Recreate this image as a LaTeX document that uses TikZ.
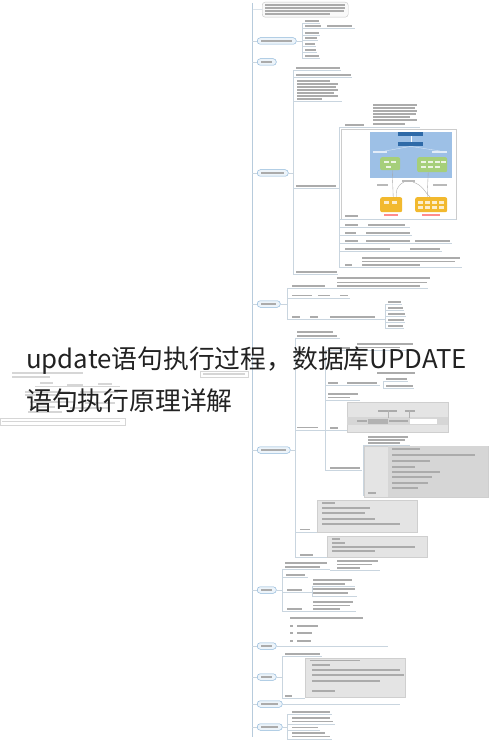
\documentclass[tikz,border=0pt]{standalone}
\usepackage{fontspec}
\newfontfamily\cjk{Noto Sans CJK SC}
\definecolor{trunkc}{HTML}{B7CBDC}
\definecolor{brc}{HTML}{C9D5DF}
\definecolor{pillb}{HTML}{8DB6D9}
\definecolor{pillf}{HTML}{EDF4FA}
\definecolor{txtc}{HTML}{ABABAB}
\definecolor{faintc}{HTML}{D6D6D6}
\definecolor{gboxc}{HTML}{E4E4E4}
\definecolor{gboxd}{HTML}{D6D6D6}
\definecolor{gboxb}{HTML}{CFCFCF}
\definecolor{picblue}{HTML}{9DC0E6}
\definecolor{picdark}{HTML}{2E6AA8}
\definecolor{picgreen}{HTML}{A6CF7A}
\definecolor{picyellow}{HTML}{F2B92E}
\definecolor{titlec}{HTML}{222222}
\tikzset{
 trunk/.style={draw=trunkc, line width=0.7pt},
 br/.style={draw=brc, line width=0.45pt},
 pill/.style={draw=pillb, fill=pillf, rounded corners=3pt, line width=0.5pt, inner sep=0pt, minimum height=6.5pt, anchor=west},
 txt/.style={fill=txtc},
 faint/.style={fill=faintc},
 gbox/.style={fill=gboxc, draw=gboxb, line width=0.3pt},
 titletext/.style={font=\cjk\fontsize{25.8}{42}\selectfont, text=titlec, inner sep=0pt, anchor=base west},
}
% text bar, underline, vertical bracket
\newcommand\T[3]{\fill[txt] (#1,#3-0.65) rectangle (#2,#3+0.65);}
\newcommand\F[3]{\fill[faint] (#1,#3-0.65) rectangle (#2,#3+0.65);}
\newcommand\U[3]{\draw[br] (#1,#3) -- (#2,#3);}
\newcommand\V[3]{\draw[br] (#1,#2) -- (#1,#3);}
\newcommand\Item[3]{\T{#1+2.5}{#2-1}{#3}\U{#1}{#2}{#3+2.5}}
\newcommand\Pill[4]{\node[pill, minimum width={(#3-#2)*1pt}] (#1) at (#2,#4) {};\T{#2+4}{#3-4}{#4}}
\begin{document}
\begin{tikzpicture}[x=1pt,y=-1pt]
\useasboundingbox (0,0) rectangle (490,743);
\fill[white] (0,0) rectangle (490,743);

% ---------- faint background map on the left ----------
\F{12}{83}{373}\F{12}{50}{377}
\F{40}{53}{383}\F{67}{83}{385}\F{98}{112}{384}
\draw[draw=faintc,line width=0.3pt] (35,386)--(120,386);
\F{25}{70}{392}\F{80}{118}{392}\F{25}{60}{395}
\F{30}{75}{402}\F{85}{115}{403}\F{30}{55}{407}\F{70}{110}{408}\F{28}{62}{412}
\draw[draw=faintc,line width=0.3pt] (0,418) rectangle (125,425);
\F{2}{120}{421.5}
\draw[draw=faintc,line width=0.3pt] (200,371) rectangle (248,377);
\F{203}{245}{374}

% ---------- trunk ----------
\coordinate (t0) at (252,3);
\coordinate (t1) at (252,737);
\draw[trunk] (t0) -- (t1);

% ---------- top box ----------
\node[draw=gray!45, fill=gray!5, rounded corners=3pt, minimum width=86pt, minimum height=15pt, anchor=north west, inner sep=0pt] (top) at (262,2) {};
\T{265}{345}{5}\T{265}{345}{8}\T{265}{344}{11}\T{265}{330}{14}
\coordinate (ttop) at (252,9.5);
\draw[br] (ttop) -- (top.west);

% ---------- node A ----------
\Pill{A}{257}{296}{41}
\coordinate (tA) at (252,41);
\draw[br] (tA) -- (A.west);
\coordinate (bA) at (302,41);
\draw[br] (A.east) -- (bA);
\V{302}{23.5}{58.5}
\Item{302}{320}{21}
\Item{302}{322}{26}\U{322}{355}{28.5}\T{327}{352}{26}
\Item{302}{320}{33}\Item{302}{318}{38}\Item{302}{316}{44}\Item{302}{317}{50}\Item{302}{320}{56}

% ---------- node B ----------
\Pill{B}{257}{276}{62}
\coordinate (tB) at (252,62);
\draw[br] (tB) -- (B.west);

% ---------- node C ----------
\Pill{C}{257}{288}{173}
\coordinate (tC) at (252,173);
\draw[br] (tC) -- (C.west);
\coordinate (bC) at (293,173);
\draw[br] (C.east) -- (bC);
\V{293}{70.5}{274.5}
\Item{293}{341}{68}
\Item{293}{352}{75}
\T{297}{330}{81}\T{297}{338}{84}\T{297}{336}{87}\T{297}{338}{90}\T{297}{334}{93}\T{297}{338}{96}\T{297}{322}{99}
\U{293}{342}{101.5}
\Item{293}{337}{186}
\Item{293}{338}{272}
% c4 children
\V{339}{127.5}{267.5}
\draw[br] (337,188.5) -- (339,188.5);
\T{345}{364}{125}\U{339}{420}{127.5}
\T{373}{417}{105}\T{373}{415}{108}\T{373}{417}{111}\T{373}{416}{114}\T{373}{410}{117}\T{373}{417}{120}\T{373}{405}{124}
% framed picture
\node[draw=gray!40, line width=0.3pt, minimum width=115pt, minimum height=90pt, anchor=north west, inner sep=0pt] (frame) at (341,129) {};
\T{345}{358}{216}
\node[fill=picblue, minimum width=82pt, minimum height=46pt, anchor=north west, inner sep=0pt] (blue) at (370,132) {};
\node[fill=picdark, minimum width=25pt, minimum height=4pt, anchor=north west, inner sep=0pt] (d1) at (398,132) {};
\node[fill=picdark, minimum width=25pt, minimum height=4pt, anchor=north west, inner sep=0pt] (d2) at (398,142) {};
\draw[white, line width=0.4pt] (d1.south) -- (d2.north);
\fill[white!70!picblue] (373,151.3) rectangle (387,152.7);
\fill[white!70!picblue] (432,151.3) rectangle (447,152.7);
\draw[white!60!picblue, line width=0.4pt] (d2.south) -- (385,151) (d2.south) -- (440,151);
\node[fill=picgreen, rounded corners=2pt, minimum width=20pt, minimum height=13pt, anchor=north west, inner sep=0pt] (g1) at (380,157) {};
\node[fill=picgreen, rounded corners=2pt, minimum width=30pt, minimum height=15pt, anchor=north west, inner sep=0pt] (g2) at (417,157) {};
\foreach \x/\y in {384/161,391/161,386/166, 421/161,428/161,435/161,441/161,421/166,428/166,435/166}
  \fill[white!80!picgreen] (\x,\y) rectangle (\x+4.5,\y+2);
\node[fill=picyellow, rounded corners=2pt, minimum width=22pt, minimum height=15pt, anchor=north west, inner sep=0pt] (y1) at (380,197) {};
\node[fill=picyellow, rounded corners=2pt, minimum width=32pt, minimum height=15pt, anchor=north west, inner sep=0pt] (y2) at (415,197) {};
\foreach \x in {384,392, 418,425,432,439}
  \fill[white!75!picyellow] (\x,201) rectangle (\x+5,204.5);
\foreach \x in {418,425,432,439}
  \fill[white!75!picyellow] (\x,206) rectangle (\x+5,209.5);
\draw[gray!70, line width=0.35pt] (g1.south) ++(2,0) -- ([xshift=2pt]y1.north);
\draw[gray!70, line width=0.35pt] (g2.south) ++(-4,0) -- ([xshift=-4pt]y2.north);
\fill[gray!55] (402,180.3) rectangle (415,181.7);
\draw[gray!70, line width=0.35pt] (404,182) .. controls (396,186) and (396,192) .. ([xshift=5pt]y1.north);
\draw[gray!70, line width=0.35pt] (413,182) .. controls (424,186) and (424,192) .. ([xshift=-1pt]y2.north);
\fill[gray!55] (377,184.3) rectangle (388,185.7);
\fill[gray!55] (433,184.3) rectangle (447,185.7);
\fill[red!45] (384,214.5) rectangle (398,215.7);
\fill[red!45] (422,214.5) rectangle (440,215.7);
\U{339}{456}{219}
% rows under the picture
\T{345}{358}{225}\T{368}{405}{225}\U{339}{410}{227.5}
\T{345}{356}{233}\T{366}{410}{233}\U{339}{412}{235.5}
\T{345}{358}{241}\T{366}{410}{241}\T{415}{450}{241}\U{339}{452}{243.5}
\T{345}{390}{249}\T{410}{440}{249}\U{339}{442}{251.5}
\T{362}{460}{258}\T{362}{455}{261.5}\T{362}{420}{265}\T{345}{352}{265}\U{339}{462}{267.5}
\T{337}{430}{278}

% ---------- node D ----------
\Pill{D}{257}{280}{304}
\coordinate (tD) at (252,304);
\draw[br] (tD) -- (D.west);
\coordinate (bD) at (287,304);
\draw[br] (D.east) -- (bD);
\V{287}{288.5}{319.5}
\T{292}{325}{286}\U{287}{428}{288.5}
\T{337}{427}{282.5}\T{337}{420}{286}
\T{292}{312}{295.5}\T{318}{330}{295.5}\T{340}{348}{295.5}\U{287}{350}{298}
\T{292}{300}{317}\T{310}{318}{317}\T{330}{375}{317}\U{287}{382}{319.5}
\V{385}{304.5}{328.5}\draw[br] (382,319.5) -- (385,319.5);
\Item{385}{402}{302}\Item{385}{404}{308}\Item{385}{406}{314}\Item{385}{405}{320}\Item{385}{404}{326}

% ---------- node E ----------
\Pill{E}{257}{290}{450}
\coordinate (tE) at (252,450);
\draw[br] (tE) -- (E.west);
\coordinate (bE) at (295,450);
\draw[br] (E.east) -- (bE);
\V{295}{338.5}{557.5}
\T{297}{333}{332}\T{297}{337}{336}\U{295}{340}{338.5}
\T{297}{318}{427.5}\U{295}{325}{430}
\V{325}{350}{471}
\T{330}{350}{348}\T{357}{413}{344}\T{357}{400}{347.5}\U{325}{415}{350}
\T{377}{415}{373}
\T{328}{338}{383}\T{347}{377}{383}\U{325}{380}{385.5}
\V{383}{381.5}{388.5}\Item{383}{408}{379}\Item{383}{414}{386}
\T{328}{358}{394}\T{328}{350}{397.5}\U{325}{360}{400}
% gray box e2d
\node[gbox, minimum width=101pt, minimum height=30pt, anchor=north west, inner sep=0pt] (box1) at (347,402) {};
\T{330}{338}{428}\U{325}{347}{430.5}
\T{378}{397}{411}\T{405}{415}{411}
\fill[gboxd] (347.2,417) rectangle (447.8,425);
\draw[gray!60, line width=0.3pt] (388,410) -- (388,418) (409,410) -- (409,418);
\T{357}{367}{421}
\fill[gray!60] (368,418.5) rectangle (388,423.5);
\T{389}{408}{421}
\fill[white] (410,418.5) rectangle (437,423.5);
% e2e
\T{330}{360}{468}\U{325}{362}{470.5}
\V{363}{445}{496}
\T{368}{408}{437}\T{368}{405}{440}\T{368}{400}{443}\U{363}{410}{445}
\node[gbox, minimum width=124pt, minimum height=51pt, anchor=north west, inner sep=0pt] (box2) at (364,446) {};
\fill[gboxd] (388,446.3) rectangle (487.8,496.7);
\T{368}{376}{493}
\T{392}{420}{449}\T{392}{475}{455}\T{392}{430}{461}\T{392}{415}{467}
\T{392}{440}{472}\T{392}{432}{477}\T{392}{428}{483}\T{392}{418}{488}
% e3
\node[gbox, minimum width=100pt, minimum height=32pt, anchor=north west, inner sep=0pt] (box3) at (317,500) {};
\T{300}{310}{529.5}\U{295}{317}{532}
\T{322}{335}{503}\T{322}{370}{508}\T{322}{365}{513}\T{322}{375}{519}\T{322}{400}{524}
% e4
\node[gbox, minimum width=100pt, minimum height=21pt, anchor=north west, inner sep=0pt] (box4) at (327,536) {};
\T{300}{313}{555}\U{295}{327}{557.5}
\T{332}{340}{539}\T{332}{345}{543}\T{332}{415}{547}\T{332}{375}{551}

% ---------- node F ----------
\Pill{F}{257}{276}{590}
\coordinate (tF) at (252,590);
\draw[br] (tF) -- (F.west);
\coordinate (bF) at (282,590);
\draw[br] (F.east) -- (bF);
\V{282}{569.5}{611.5}
\T{285}{327}{563}\T{285}{320}{567}\U{282}{330}{569.5}
\T{337}{378}{561}\T{337}{372}{564.5}\T{337}{360}{568}\U{330}{380}{570.5}
\T{286}{305}{575}\U{282}{308}{577.5}
\T{287}{302}{590}\U{282}{310}{592.5}
\V{312}{586.5}{596.5}\draw[br] (310,592.5) -- (312,592.5);
\T{313}{352}{580}\T{313}{345}{584}\U{312}{355}{586.5}
\T{313}{355}{589}\T{313}{348}{593}\U{312}{357}{596.5}
\T{287}{302}{609}\U{282}{356}{611.5}
\T{313}{353}{602}\T{313}{350}{605.5}\T{313}{340}{609}

% ---------- node G ----------
\Pill{G}{257}{276}{646}
\coordinate (tG) at (252,646);
\draw[br] (tG) -- (G.west);
\coordinate (eG) at (388,646);
\draw[br] (G.east) -- (eG);
\T{290}{363}{618}
\T{290}{293}{626}\T{297}{318}{626}
\T{290}{293}{633}\T{297}{312}{633}
\T{290}{293}{641}\T{297}{311}{641}

% ---------- node H ----------
\Pill{H}{257}{276}{677}
\coordinate (tH) at (252,677);
\draw[br] (tH) -- (H.west);
\coordinate (bH) at (282,677);
\draw[br] (H.east) -- (bH);
\V{282}{656.5}{698.5}
\T{285}{320}{654}\U{282}{322}{656.5}
\node[gbox, minimum width=100pt, minimum height=39pt, anchor=north west, inner sep=0pt] (box5) at (305,658) {};
\T{285}{292}{696}\U{282}{305}{698.5}
\T{310}{360}{660.5}\T{312}{330}{665}\T{312}{400}{670}\T{312}{404}{675}\T{312}{380}{681}\T{312}{335}{691}

% ---------- node I ----------
\Pill{I}{257}{282}{704}
\coordinate (tI) at (252,704);
\draw[br] (tI) -- (I.west);
\coordinate (eI) at (400,704);
\draw[br] (I.east) -- (eI);

% ---------- node J ----------
\Pill{J}{257}{282}{727}
\coordinate (tJ) at (252,727);
\draw[br] (tJ) -- (J.west);
\coordinate (bJ) at (287,727);
\draw[br] (J.east) -- (bJ);
\V{287}{714.5}{739}
\T{292}{330}{712}\U{287}{332}{714.5}
\T{292}{330}{718}\T{292}{333}{721.5}\U{287}{335}{724}
\T{292}{318}{727.5}\U{287}{320}{730}
\T{292}{325}{733}\T{292}{330}{736.5}\U{287}{332}{739}

% ---------- title overlay ----------
\node[titletext] (title1) at (26,368) {update语句执行过程，数据库UPDATE};
\node[titletext] (title2) at (26,410) {语句执行原理详解};
\end{tikzpicture}
\end{document}
